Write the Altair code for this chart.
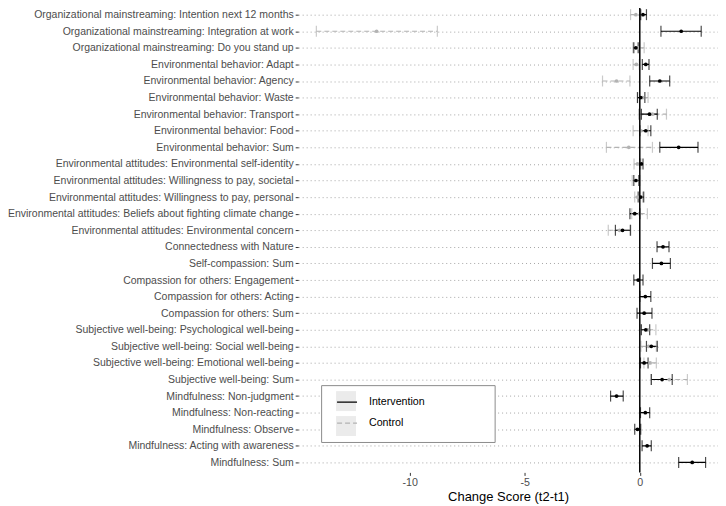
import altair as alt
import pandas as pd

labels = [
    "Organizational mainstreaming: Intention next 12 months",
    "Organizational mainstreaming: Integration at work",
    "Organizational mainstreaming: Do you stand up",
    "Environmental behavior: Adapt",
    "Environmental behavior: Agency",
    "Environmental behavior: Waste",
    "Environmental behavior: Transport",
    "Environmental behavior: Food",
    "Environmental behavior: Sum",
    "Environmental attitudes: Environmental self-identity",
    "Environmental attitudes: Willingness to pay, societal",
    "Environmental attitudes: Willingness to pay, personal",
    "Environmental attitudes: Beliefs about fighting climate change",
    "Environmental attitudes: Environmental concern",
    "Connectedness with Nature",
    "Self-compassion: Sum",
    "Compassion for others: Engagement",
    "Compassion for others: Acting",
    "Compassion for others: Sum",
    "Subjective well-being: Psychological well-being",
    "Subjective well-being: Social well-being",
    "Subjective well-being: Emotional well-being",
    "Subjective well-being: Sum",
    "Mindfulness: Non-judgment",
    "Mindfulness: Non-reacting",
    "Mindfulness: Observe",
    "Mindfulness: Acting with awareness",
    "Mindfulness: Sum",
]

int_mean = [0.14, 1.80, -0.17, 0.26, 0.87, 0.04, 0.42, 0.26, 1.69, 0.07, -0.17, 0.04, -0.22, -0.75,
            1.01, 0.94, -0.07, 0.24, 0.19, 0.26, 0.50, 0.19, 0.97, -1.01, 0.24, -0.10, 0.32, 2.28]
int_lo = [0.03, 0.92, -0.26, 0.11, 0.43, -0.10, 0.07, 0.00, 0.87, 0.00, -0.26, -0.07, -0.43, -1.06,
          0.75, 0.55, -0.26, 0.00, -0.12, 0.07, 0.29, 0.03, 0.50, -1.27, 0.03, -0.22, 0.10, 1.69]
int_hi = [0.29, 2.67, -0.07, 0.40, 1.30, 0.22, 0.76, 0.48, 2.53, 0.14, -0.04, 0.17, 0.00, -0.41,
          1.27, 1.33, 0.14, 0.48, 0.53, 0.43, 0.76, 0.36, 1.41, -0.72, 0.43, 0.04, 0.50, 2.86]

ctl_rows = [1, 2, 3, 4, 5, 6, 7, 8, 9, 10, 11, 12, 13, 14, 20, 21, 22, 23]
ctl_mean = [-0.17, -11.44, -0.05, -0.15, -1.01, 0.13, 0.55, 0.05, -0.48, -0.10, -0.15, -0.10, -0.01, -0.88,
            0.35, 0.38, 0.45, 1.28]
ctl_lo = [-0.40, -14.06, -0.30, -0.29, -1.62, -0.10, -0.05, -0.29, -1.45, -0.25, -0.33, -0.22, -0.35, -1.37,
          0.02, 0.05, 0.18, 0.50]
ctl_hi = [0.07, -8.80, 0.19, -0.02, -0.43, 0.36, 1.16, 0.36, 0.55, 0.05, 0.00, 0.12, 0.33, -0.39,
          0.70, 0.72, 0.72, 2.07]

groups = ["Intervention", "Control"]
key_names = ["key_a", "key_b"]
x_ticks = [-10, -5, 0]

rows = []
for i, lab in enumerate(labels):
    rows.append({"label": lab, "group": "Intervention", "mean": int_mean[i], "lo": int_lo[i], "hi": int_hi[i]})
for j, r in enumerate(ctl_rows):
    rows.append({"label": labels[r - 1], "group": "Control", "mean": ctl_mean[j], "lo": ctl_lo[j], "hi": ctl_hi[j]})
df = pd.DataFrame(rows)
df["order"] = df["group"].map({"Control": 0, "Intervention": 1})
df["key"] = df["group"].map({"Intervention": key_names[0], "Control": key_names[1]})
df = df.sort_values("order")

LX, LY = 23, 381.5

xscale = alt.Scale(domain=[-14.85, 3.4], nice=False, zero=False)
yenc = alt.Y("label:N", sort=labels, scale=alt.Scale(type="point", padding=0.6),
             axis=alt.Axis(title=None, domain=False, ticks=True, tickSize=3, tickColor="#333333",
                           labelFontSize=10.5, labelColor="#4d4d4d", labelPadding=2, labelLimit=400,
                           grid=True, gridDash=[1, 3], gridColor="#a6a6a6", gridWidth=1))
color = alt.Color("group:N", scale=alt.Scale(domain=groups, range=["#000000", "#b3b3b3"]),
                  legend=alt.Legend(title=None, orient="none", legendX=LX, legendY=LY,
                                    symbolType="stroke", symbolSize=400, symbolStrokeWidth=1.2,
                                    labelFontSize=10.7, labelColor="#000000", labelOffset=11,
                                    rowPadding=5, padding=6, symbolOffset=9, zindex=2))
dash = alt.StrokeDash("group:N", scale=alt.Scale(domain=groups, range=[[1, 0], [5, 3]]), legend=None)
xenc = alt.X("lo:Q", scale=xscale,
             axis=alt.Axis(values=x_ticks, title="Change Score (t2-t1)", domain=False, grid=False,
                           tickSize=3, tickColor="#333333", labelFontSize=10.7, labelColor="#4d4d4d",
                           labelExpr="'' + datum.value",
                           titleFontSize=13, titleFontWeight="normal", titleColor="#000000",
                           titlePadding=3, labelPadding=2))

keys = alt.Chart(df).mark_point(opacity=0, size=10, filled=True, color="#ebebeb").encode(
    x=alt.X("mean:Q", scale=xscale), y=alt.Y("label:N", sort=labels),
    shape=alt.Shape("key:N", scale=alt.Scale(domain=key_names, range=["square", "square"]),
                    legend=alt.Legend(title=None, orient="none", legendX=LX, legendY=LY,
                                      symbolSize=400, symbolFillColor="#ebebeb", symbolStrokeColor="#ebebeb",
                                      symbolStrokeWidth=0, symbolOpacity=1, labelOpacity=0,
                                      labelFontSize=10.7, labelOffset=133, rowPadding=5, padding=6,
                                      symbolOffset=9,
                                      labelExpr="'\u00a0'",
                                      strokeColor="#8c8c8c", fillColor="white", zindex=1)))
bars = alt.Chart(df).mark_rule(strokeWidth=1.2).encode(x=xenc, x2="hi:Q", y=yenc, color=color, strokeDash=dash,
                                                       order="order:Q")
cap_lo = alt.Chart(df).mark_tick(orient="vertical", size=11, thickness=1.2).encode(
    x=alt.X("lo:Q", scale=xscale), y=alt.Y("label:N", sort=labels),
    color=alt.Color("group:N", legend=None), strokeDash=dash)
cap_hi = alt.Chart(df).mark_tick(orient="vertical", size=11, thickness=1.2).encode(
    x=alt.X("hi:Q", scale=xscale), y=alt.Y("label:N", sort=labels),
    color=alt.Color("group:N", legend=None), strokeDash=dash)
pts = alt.Chart(df).mark_point(filled=True, size=14, opacity=1).encode(
    x=alt.X("mean:Q", scale=xscale), y=alt.Y("label:N", sort=labels),
    color=alt.Color("group:N", legend=None))
zero = alt.Chart(pd.DataFrame({"z": [0]})).mark_rule(color="black", strokeWidth=1.5).encode(
    x=alt.X("z:Q", scale=xscale))

chart = alt.layer(keys, bars, cap_lo, cap_hi, pts, zero).properties(
    width=421, height=469,
    autosize=alt.AutoSizeParams(type="none"),
    padding={"left": 291, "top": -4, "right": 0, "bottom": 33},
).configure(font="Liberation Sans").configure_view(stroke=None)

chart.save("out.html", embed_options={"renderer": "svg", "actions": False})
